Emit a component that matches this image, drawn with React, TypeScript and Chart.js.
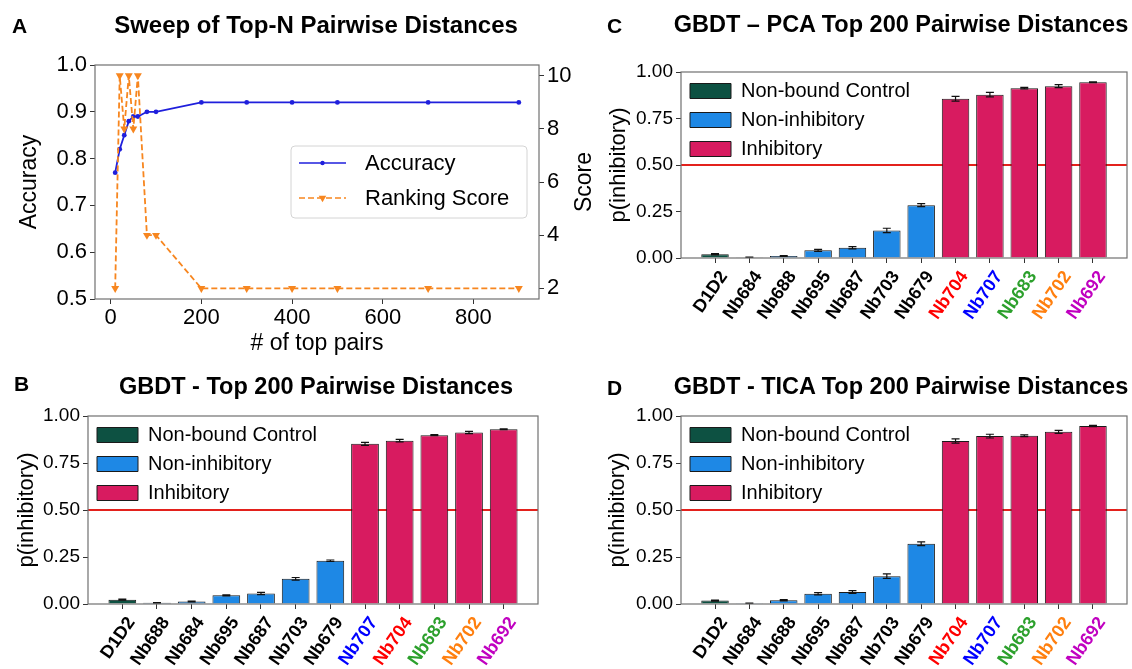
import React, { useEffect, useRef } from 'react';
import { Chart, registerables } from 'chart.js';

Chart.register(...registerables);

const FONT = "'Liberation Sans', Arial, Helvetica, sans-serif";
Chart.defaults.font.family = FONT;
Chart.defaults.color = '#000';

// ---------- Panel A data ----------
const topN = [10, 20, 30, 40, 50, 60, 80, 100, 200, 300, 400, 500, 700, 900];
const accuracy = [0.77, 0.82, 0.85, 0.88, 0.89, 0.89, 0.9, 0.9, 0.92, 0.92, 0.92, 0.92, 0.92, 0.92];
const rankingScore = [2, 10, 8, 10, 8, 10, 4, 4, 2, 2, 2, 2, 2, 2];
const topNTicks = [0, 200, 400, 600, 800];
const accuracyTicks = [0.5, 0.6, 0.7, 0.8, 0.9, 1.0];
const scoreTicks = [2, 4, 6, 8, 10];

// ---------- Bar panels data ----------
const groupNames = ['Non-bound Control', 'Non-inhibitory', 'Inhibitory'];
const groupColors = ['#0d5142', '#1e88e5', '#d81b60'];
const barGroups = [0, 1, 1, 1, 1, 1, 1, 2, 2, 2, 2, 2];
const probTicks = [0, 0.25, 0.5, 0.75, 1.0];
const threshold = 0.5;

const labelsB = ['D1D2', 'Nb688', 'Nb684', 'Nb695', 'Nb687', 'Nb703', 'Nb679', 'Nb707', 'Nb704', 'Nb683', 'Nb702', 'Nb692'];
const valuesB = [0.023, 0.006, 0.013, 0.046, 0.056, 0.134, 0.23, 0.852, 0.869, 0.898, 0.912, 0.929];
const errorsB = [0.003, 0.002, 0.002, 0.003, 0.006, 0.007, 0.004, 0.008, 0.007, 0.003, 0.006, 0.002];

const labelsC = ['D1D2', 'Nb684', 'Nb688', 'Nb695', 'Nb687', 'Nb703', 'Nb679', 'Nb704', 'Nb707', 'Nb683', 'Nb702', 'Nb692'];
const valuesC = [0.02, 0.004, 0.011, 0.041, 0.055, 0.148, 0.284, 0.856, 0.878, 0.913, 0.924, 0.945];
const errorsC = [0.003, 0.001, 0.002, 0.005, 0.006, 0.012, 0.008, 0.013, 0.012, 0.004, 0.008, 0.002];

const labelsD = ['D1D2', 'Nb684', 'Nb688', 'Nb695', 'Nb687', 'Nb703', 'Nb679', 'Nb704', 'Nb707', 'Nb683', 'Nb702', 'Nb692'];
const valuesD = [0.018, 0.004, 0.02, 0.055, 0.064, 0.148, 0.32, 0.867, 0.893, 0.895, 0.916, 0.947];
const errorsD = [0.003, 0.001, 0.003, 0.006, 0.007, 0.012, 0.01, 0.011, 0.01, 0.005, 0.008, 0.003];

const labelColor: Record<string, string> = {
  Nb704: '#ff0000',
  Nb707: '#0000ff',
  Nb683: '#2ca02c',
  Nb702: '#ff7f0e',
  Nb692: '#c000c0',
};

const BLUE = '#1f1fdc';
const ORANGE = '#f7861f';
const SPINE = '#707070';

const framePlugin = {
  id: 'frame',
  afterDatasetsDraw(chart: any) {
    const { ctx, chartArea } = chart;
    ctx.save();
    ctx.strokeStyle = SPINE;
    ctx.lineWidth = 1.2;
    ctx.strokeRect(chartArea.left, chartArea.top, chartArea.right - chartArea.left, chartArea.bottom - chartArea.top);
    ctx.restore();
  },
};

// keep the legend inside the plot area, top-left
const legendInsidePlugin = {
  id: 'legendInside',
  afterLayout(chart: any) {
    const lg = chart.legend;
    if (!lg) return;
    const a = chart.chartArea;
    lg.left = a.left;
    lg.top = a.top;
    lg.right = a.right;
    lg.bottom = a.bottom;
  },
};

const tickGrid = { display: true, offset: false, drawOnChartArea: false, drawTicks: true, tickLength: 5, color: '#333', tickWidth: 1 };

function makeBarConfig(
  labels: string[],
  values: number[],
  errors: number[],
  lay: { yw: number; titlePad: number; padRight: number; padTop: number; xh: number }
) {
  const thresholdPlugin = {
    id: 'threshold',
    beforeDatasetsDraw(chart: any) {
      const { ctx, chartArea, scales } = chart;
      const y = scales.y.getPixelForValue(threshold);
      ctx.save();
      ctx.strokeStyle = '#e3211c';
      ctx.lineWidth = 2;
      ctx.beginPath();
      ctx.moveTo(chartArea.left, y);
      ctx.lineTo(chartArea.right, y);
      ctx.stroke();
      ctx.restore();
    },
  };
  const errorPlugin = {
    id: 'errorbars',
    afterDatasetsDraw(chart: any) {
      const { ctx, scales } = chart;
      ctx.save();
      ctx.strokeStyle = '#111';
      ctx.lineWidth = 1.2;
      values.forEach((v, i) => {
        const px = scales.x.getPixelForValue(i);
        const y1 = scales.y.getPixelForValue(v - errors[i]);
        const y2 = scales.y.getPixelForValue(v + errors[i]);
        ctx.beginPath();
        ctx.moveTo(px, y1);
        ctx.lineTo(px, y2);
        ctx.moveTo(px - 4, y1);
        ctx.lineTo(px + 4, y1);
        ctx.moveTo(px - 4, y2);
        ctx.lineTo(px + 4, y2);
        ctx.stroke();
      });
      ctx.restore();
    },
  };
  return {
    type: 'bar',
    data: {
      datasets: [
        {
          label: 'p(inhibitory)',
          data: values.map((v, i) => ({ x: i, y: v })),
          backgroundColor: barGroups.map((g) => groupColors[g]),
          borderColor: '#1a1a1a',
          borderWidth: 1,
          barPercentage: 0.8,
          categoryPercentage: 1,
        },
      ],
    },
    options: {
      responsive: false,
      animation: false,
      layout: { padding: { left: 0, right: lay.padRight, top: lay.padTop, bottom: 0 } },
      scales: {
        x: {
          type: 'linear',
          offset: false,
          bounds: 'data',
          min: -0.99,
          max: 11.99,
          afterBuildTicks: (s: any) => {
            s.ticks = labels.map((_, i) => ({ value: i }));
          },
          afterFit: (s: any) => {
            s.height = lay.xh;
          },
          ticks: {
            autoSkip: false,
            minRotation: 55,
            maxRotation: 55,
            labelOffset: 9,
            padding: 4,
            font: { family: FONT, size: 18, weight: 'bold' },
            color: (c: any) => labelColor[labels[c.index]] || '#000',
            callback: (v: any) => labels[v],
          },
          grid: tickGrid,
          border: { display: false },
        },
        y: {
          min: 0,
          max: 1,
          afterBuildTicks: (s: any) => {
            s.ticks = probTicks.map((v) => ({ value: v }));
          },
          afterFit: (s: any) => {
            s.width = lay.yw;
          },
          ticks: {
            font: { family: FONT, size: 19 },
            color: '#000',
            padding: 3,
            callback: (v: any) => Number(v).toFixed(2),
          },
          title: {
            display: true,
            text: 'p(inhibitory)',
            font: { family: FONT, size: 22 },
            color: '#000',
            padding: { top: lay.titlePad, bottom: 0 },
          },
          grid: tickGrid,
          border: { display: false },
        },
      },
      plugins: {
        legend: {
          position: 'chartArea',
          align: 'start',
          onClick: () => {},
          labels: {
            boxWidth: 41,
            boxHeight: 15,
            padding: 9,
            font: { family: FONT, size: 20 },
            color: '#000',
            generateLabels: () =>
              groupNames.map((t, i) => ({
                text: t,
                fillStyle: groupColors[i],
                strokeStyle: '#1a1a1a',
                lineWidth: 1,
                hidden: false,
                datasetIndex: 0,
              })),
          },
        },
        tooltip: { enabled: false },
      },
    },
    plugins: [thresholdPlugin, errorPlugin, framePlugin, legendInsidePlugin],
  };
}

function makeSweepConfig() {
  const scoreTitlePlugin = {
    id: 'scoreTitle',
    afterDraw(chart: any) {
      const { ctx, chartArea } = chart;
      ctx.save();
      ctx.translate(585, (chartArea.top + chartArea.bottom) / 2);
      ctx.rotate(-Math.PI / 2);
      ctx.font = `23px ${FONT}`;
      ctx.fillStyle = '#000';
      ctx.textAlign = 'center';
      ctx.textBaseline = 'middle';
      ctx.fillText('Score', 0, 0);
      ctx.restore();
    },
  };
  const legendPlugin = {
    id: 'sweepLegend',
    afterDraw(chart: any) {
      const { ctx } = chart;
      const x0 = 291, y0 = 146, x1 = 527, y1 = 218, r = 4;
      ctx.save();
      ctx.fillStyle = 'rgba(255,255,255,0.85)';
      ctx.strokeStyle = '#d4d4d4';
      ctx.lineWidth = 1;
      ctx.beginPath();
      ctx.moveTo(x0 + r, y0);
      ctx.arcTo(x1, y0, x1, y1, r);
      ctx.arcTo(x1, y1, x0, y1, r);
      ctx.arcTo(x0, y1, x0, y0, r);
      ctx.arcTo(x0, y0, x1, y0, r);
      ctx.closePath();
      ctx.fill();
      ctx.stroke();
      const rows = [163, 198];
      chart.data.datasets.forEach((d: any, k: number) => {
        const y = rows[k];
        ctx.strokeStyle = d.borderColor;
        ctx.lineWidth = 1.6;
        ctx.setLineDash(d.borderDash || []);
        ctx.beginPath();
        ctx.moveTo(299, y);
        ctx.lineTo(346, y);
        ctx.stroke();
        ctx.setLineDash([]);
        ctx.fillStyle = d.borderColor;
        const cx = 322.5;
        if (d.pointStyle === 'triangle') {
          ctx.beginPath();
          ctx.moveTo(cx - 3.8, y - 2.2);
          ctx.lineTo(cx + 3.8, y - 2.2);
          ctx.lineTo(cx, y + 4.2);
          ctx.closePath();
          ctx.fill();
        } else {
          ctx.beginPath();
          ctx.arc(cx, y, 2.2, 0, Math.PI * 2);
          ctx.fill();
        }
        ctx.fillStyle = '#000';
        ctx.font = `22px ${FONT}`;
        ctx.textAlign = 'left';
        ctx.textBaseline = 'middle';
        ctx.fillText(d.label, 365, y + 1);
      });
      ctx.restore();
    },
  };
  const tickFont = { family: FONT, size: 22 };
  return {
    type: 'line',
    data: {
      datasets: [
        {
          label: 'Accuracy',
          data: topN.map((x, i) => ({ x, y: accuracy[i] })),
          yAxisID: 'y',
          borderColor: BLUE,
          backgroundColor: BLUE,
          pointBackgroundColor: BLUE,
          borderWidth: 1.8,
          pointRadius: 2.4,
          pointBorderWidth: 0,
          order: 2,
        },
        {
          label: 'Ranking Score',
          data: topN.map((x, i) => ({ x, y: rankingScore[i] })),
          yAxisID: 'y2',
          borderColor: ORANGE,
          backgroundColor: ORANGE,
          pointBackgroundColor: ORANGE,
          borderWidth: 1.8,
          borderDash: [6, 3],
          pointStyle: 'triangle',
          pointRotation: 180,
          pointRadius: 4.6,
          pointBorderWidth: 0,
          order: 1,
        },
      ],
    },
    options: {
      responsive: false,
      animation: false,
      layout: { padding: { left: 0, right: 0, top: 65, bottom: 3 } },
      scales: {
        x: {
          type: 'linear',
          min: -34.5,
          max: 944.5,
          afterBuildTicks: (s: any) => {
            s.ticks = topNTicks.map((v) => ({ value: v }));
          },
          afterFit: (s: any) => {
            s.height = 58;
          },
          ticks: { font: tickFont, color: '#000', padding: 1, maxRotation: 0 },
          title: {
            display: true,
            text: '# of top pairs',
            font: { family: FONT, size: 23 },
            color: '#000',
            padding: { top: 0, bottom: 0 },
          },
          grid: tickGrid,
          border: { display: false },
        },
        y: {
          position: 'left',
          min: 0.5,
          max: 1.0,
          afterBuildTicks: (s: any) => {
            s.ticks = accuracyTicks.map((v) => ({ value: v }));
          },
          afterFit: (s: any) => {
            s.width = 95;
          },
          ticks: { font: tickFont, color: '#000', padding: 3, callback: (v: any) => Number(v).toFixed(1) },
          title: {
            display: true,
            text: 'Accuracy',
            font: { family: FONT, size: 23 },
            color: '#000',
            padding: { top: 16, bottom: 0 },
          },
          grid: tickGrid,
          border: { display: false },
        },
        y2: {
          position: 'right',
          min: 1.6,
          max: 10.4,
          afterBuildTicks: (s: any) => {
            s.ticks = scoreTicks.map((v) => ({ value: v }));
          },
          afterFit: (s: any) => {
            s.width = 71;
          },
          ticks: { font: tickFont, color: '#000', padding: 3 },
          grid: tickGrid,
          border: { display: false },
        },
      },
      plugins: {
        legend: { display: false },
        tooltip: { enabled: false },
      },
    },
    plugins: [framePlugin, scoreTitlePlugin, legendPlugin],
  };
}

function ChartBox(props: { left: number; top: number; width: number; height: number; make: () => any }) {
  const ref = useRef<HTMLCanvasElement>(null);
  useEffect(() => {
    const chart = new Chart(ref.current as HTMLCanvasElement, props.make());
    return () => chart.destroy();
  }, []);
  return (
    <canvas
      ref={ref}
      width={props.width}
      height={props.height}
      style={{ position: 'absolute', left: props.left, top: props.top, width: props.width, height: props.height }}
    />
  );
}

function Label(props: { text: string; x: number; y: number; size: number; center?: boolean }) {
  return (
    <div
      style={{
        position: 'absolute',
        left: props.x,
        top: props.y,
        transform: props.center ? 'translate(-50%, -50%)' : 'translate(0, -50%)',
        fontFamily: FONT,
        fontWeight: 'bold',
        fontSize: props.size,
        lineHeight: 1,
        whiteSpace: 'nowrap',
        color: '#000',
      }}
    >
      {props.text}
    </div>
  );
}

export default function App() {
  return (
    <div
      style={{
        position: 'fixed',
        left: 0,
        top: 0,
        width: 1132,
        height: 669,
        background: '#fff',
        overflow: 'hidden',
      }}
    >
      <ChartBox left={0} top={0} width={610} height={360} make={makeSweepConfig} />
      <ChartBox
        left={600}
        top={0}
        width={532}
        height={360}
        make={() => makeBarConfig(labelsC, valuesC, errorsC, { yw: 81, titlePad: 6, padRight: 5, padTop: 72, xh: 102 })}
      />
      <ChartBox
        left={0}
        top={360}
        width={560}
        height={309}
        make={() => makeBarConfig(labelsB, valuesB, errorsB, { yw: 88, titlePad: 14, padRight: 22, padTop: 56, xh: 65 })}
      />
      <ChartBox
        left={600}
        top={360}
        width={532}
        height={309}
        make={() => makeBarConfig(labelsD, valuesD, errorsD, { yw: 81, titlePad: 5, padRight: 5, padTop: 56, xh: 65 })}
      />
      <Label text="A" x={12} y={25} size={21} />
      <Label text="C" x={607} y={25} size={21} />
      <Label text="B" x={14} y={383} size={21} />
      <Label text="D" x={607} y={387} size={21} />
      <Label text="Sweep of Top-N Pairwise Distances" x={316} y={25} size={24} center />
      <Label text="GBDT – PCA Top 200 Pairwise Distances" x={901} y={25} size={23.5} center />
      <Label text="GBDT - Top 200 Pairwise Distances" x={316} y={387} size={23.5} center />
      <Label text="GBDT - TICA Top 200 Pairwise Distances" x={901} y={387} size={23.5} center />
    </div>
  );
}
